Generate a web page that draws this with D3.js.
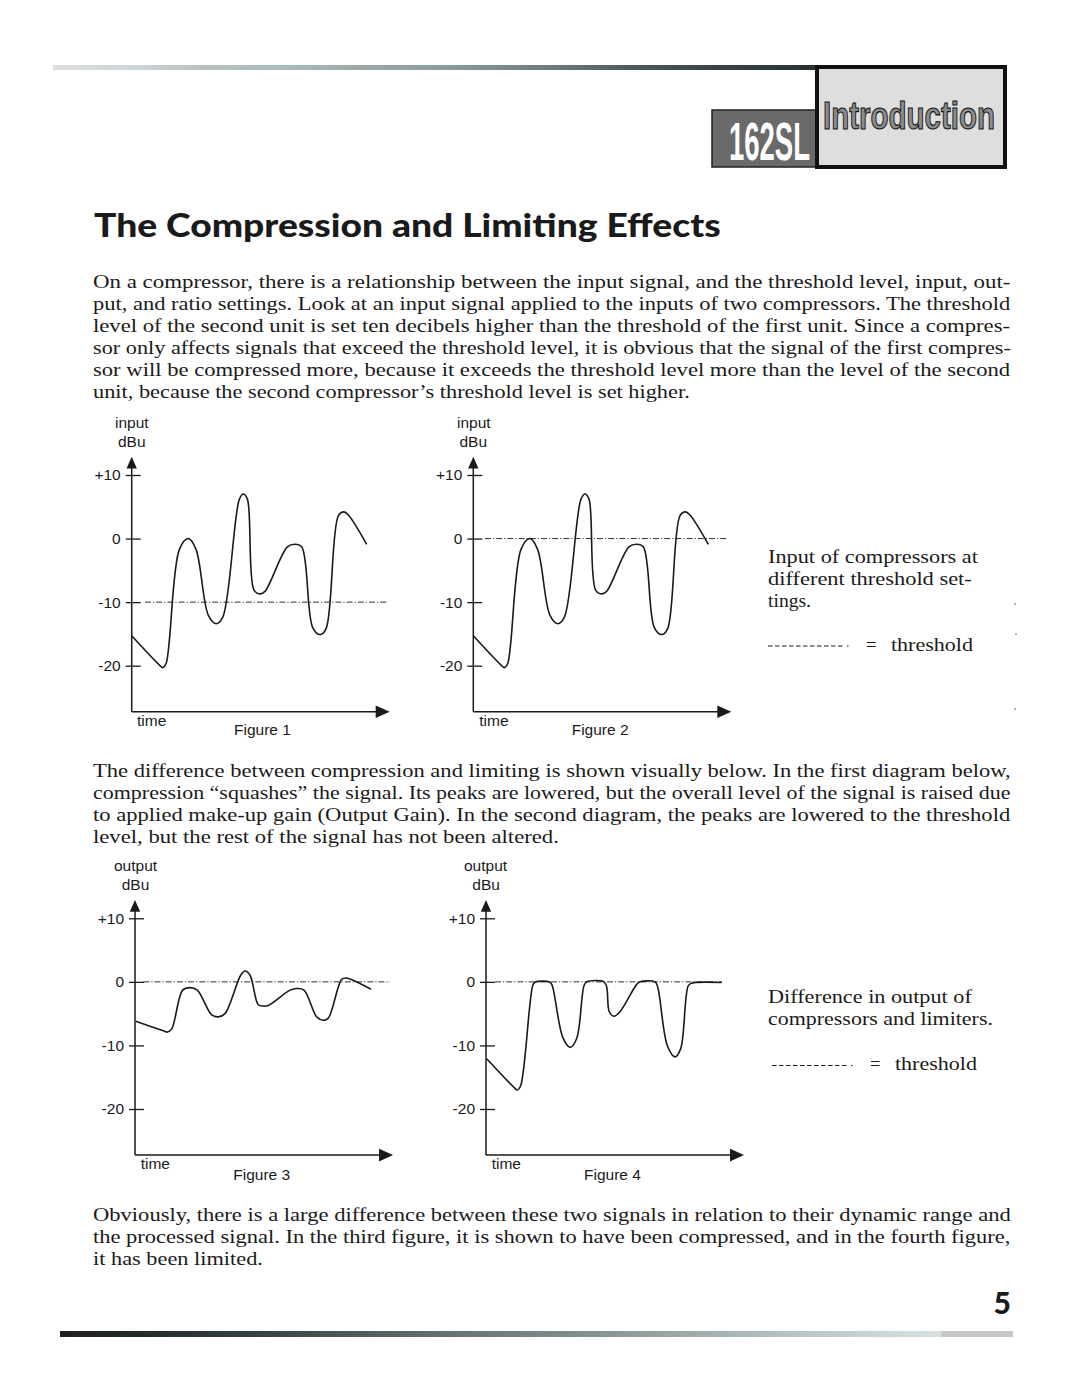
<!DOCTYPE html>
<html><head><meta charset="utf-8">
<script src="https://cdn.jsdelivr.net/npm/d3@7"></script>
<style>html,body{margin:0;padding:0;background:#fff;} svg{display:block;}</style>
</head><body>
<svg id="page" width="1080" height="1397"></svg>
<script>
// ---------- DATA ----------
const yTickValues = [10, 0, -10, -20];
const yTickLabels = ["+10", "0", "-10", "-20"];

// input signal (Figures 1 & 2): time units, level in dBu
const inputTime  = [0, 27.7, 31, 34.3, 47.7, 56.7, 64.3, 76.7, 84.3, 91, 107.7, 111.7, 115.7, 122.3, 128.3, 133.3, 155.7, 163.3, 170, 181, 188.3, 194.3, 206.7, 212.3, 216.7, 235];
const inputLevel = [-15.3, -19.9, -20.3, -19.7, -1.7, 0, -1.7, -12.1, -13.4, -12.4, 6.2, 7.0, 6.2, -8.1, -8.7, -8.3, -1.3, -0.9, -1.3, -14.0, -15.1, -14.2, 3.6, 4.2, 3.7, -0.9];

// compressed output (Figure 3)
const compTime  = [0.7, 28.3, 32.3, 36.7, 47.7, 55, 62.3, 76.7, 83.3, 90, 105.7, 110, 115, 123.3, 128.3, 133.3, 155, 161.7, 169, 181.7, 188.3, 193.3, 206.7, 211, 215.7, 236];
const compLevel = [-6.2, -7.7, -7.9, -7.4, -1.3, -0.9, -1.3, -5.2, -5.5, -5.0, 1.05, 1.7, 1.05, -3.6, -3.8, -3.7, -1.3, -1.05, -1.3, -5.5, -6.05, -5.7, 0.4, 0.6, 0.4, -1.15];

// limited output (Figure 4)
const limTime  = [0.7, 28, 31.3, 34.7, 46.7, 49, 64, 66.3, 76.7, 84, 90.7, 98, 100.7, 118, 120.7, 123.3, 128, 134, 150.7, 154, 169, 171.7, 181.3, 189, 194.7, 202.3, 205.7, 235.7];
const limLevel = [-12.1, -16.6, -17.0, -16.3, -0.6, -0.05, -0.05, -0.6, -8.7, -10.3, -8.9, -0.6, 0, 0, -0.8, -4.7, -5.4, -4.7, -0.4, 0, 0, -0.8, -10.0, -11.8, -10.5, -0.6, -0.2, -0.1];

const figureTitles = ["Figure 1", "Figure 2", "Figure 3", "Figure 4"];
const axisTitles   = ["input", "input", "output", "output"];
const unitTitle    = "dBu";
const timeTitle    = "time";
const thresholdLevels = [-10, 0, 0, 0];

const heading = "The Compression and Limiting Effects";
const para1 = [
  "On a compressor, there is a relationship between the input signal, and the threshold level, input, out-",
  "put, and ratio settings. Look at an input signal applied to the inputs of two compressors. The threshold",
  "level of the second unit is set ten decibels higher than the threshold of the first unit. Since a compres-",
  "sor only affects signals that exceed the threshold level, it is obvious that the signal of the first compres-",
  "sor will be compressed more, because it exceeds the threshold level more than the level of the second",
  "unit, because the second compressor\u2019s threshold level is set higher."
];
const para2 = [
  "The difference between compression and limiting is shown visually below. In the first diagram below,",
  "compression \u201csquashes\u201d the signal. Its peaks are lowered, but the overall level of the signal is raised due",
  "to applied make-up gain (Output Gain). In the second diagram, the peaks are lowered to the threshold",
  "level, but the rest of the signal has not been altered."
];
const para3 = [
  "Obviously, there is a large difference between these two signals in relation to their dynamic range and",
  "the processed signal. In the third figure, it is shown to have been compressed, and in the fourth figure,",
  "it has been limited."
];
const note1 = ["Input of compressors at", "different threshold set-", "tings."];
const note2 = ["Difference in output of", "compressors and limiters."];
const legendText = "threshold";

// ---------- DRAW ----------
const svg = d3.select("#page");
const ink = "#1a1a1a";
const serif = "'Liberation Serif', 'Times New Roman', serif";
const sans = "'Liberation Sans', Arial, Helvetica, sans-serif";

// text fitted to a target width by horizontal scaling (keeps bbox honest)
function fitText(parent, str, x, y, width, attrs) {
  const t = parent.append("text").attr("x", 0).attr("y", 0).text(str);
  Object.entries(attrs).forEach(([k, v]) => t.attr(k, v));
  const w = t.node().getComputedTextLength();
  const sx = w > 0 ? width / w : 1;
  t.attr("transform", `translate(${x},${y}) scale(${sx},1)`);
  return t;
}

// gradients
const defs = svg.append("defs");
const topGrad = defs.append("linearGradient").attr("id", "topGrad");
[[0,"#dedede"],[0.1,"#ccd8d8"],[0.2,"#b9bfbf"],[0.3,"#a6bebb"],[0.4,"#9fa8a8"],[0.5,"#8aa09e"],[0.6,"#788888"],[0.68,"#667272"],[0.76,"#4c5a5a"],[0.86,"#3a4444"],[1,"#263232"]]
  .forEach(([o,c]) => topGrad.append("stop").attr("offset", o).attr("stop-color", c));
const botGrad = defs.append("linearGradient").attr("id", "botGrad");
[[0,"#1e1e1e"],[0.12,"#283232"],[0.22,"#394545"],[0.33,"#536060"],[0.44,"#6a7878"],[0.54,"#7f8f8d"],[0.64,"#98a6a4"],[0.72,"#aabab8"],[0.82,"#c2cece"],[0.924,"#d6e2e2"],[0.925,"#c8c8c8"],[1,"#c8c8c8"]]
  .forEach(([o,c]) => botGrad.append("stop").attr("offset", o).attr("stop-color", c));

// header
svg.append("rect").attr("x", 53).attr("y", 65).attr("width", 766).attr("height", 5).attr("fill", "url(#topGrad)");
svg.append("rect").attr("x", 712).attr("y", 110).attr("width", 105).attr("height", 57)
  .attr("fill", "#6a6a6a").attr("stroke", "#222").attr("stroke-width", 1.5);
fitText(svg, "162SL", 729, 160, 81, {
  "font-family": "'Liberation Sans Narrow', 'Liberation Sans', sans-serif",
  "font-weight": "bold", "font-size": 53, "fill": "#fff"});
svg.append("rect").attr("x", 817).attr("y", 67).attr("width", 188).attr("height", 100)
  .attr("fill", "#dedede").attr("stroke", "#111").attr("stroke-width", 4);
fitText(svg, "Introduction", 823, 128.5, 172, {
  "font-family": "'Liberation Sans', sans-serif",
  "font-weight": "bold", "font-size": 38, "fill": "#8c8c8c",
  "stroke": "#111", "stroke-width": 1.1});

// heading
fitText(svg, heading, 94, 237, 627, {
  "font-family": "Lato, 'Open Sans', sans-serif", "font-weight": 900,
  "font-size": 32, "fill": ink});

// paragraphs (justified by slight glyph stretching)
function paragraph(lines, y0, lastWidth) {
  lines.forEach((ln, i) => {
    const last = i === lines.length - 1;
    fitText(svg, ln, 93, y0 + i * 22, last ? lastWidth : 918, {
      "font-family": serif, "font-size": 18.5, "fill": ink});
  });
}
paragraph(para1, 288, 597);
paragraph(para2, 776.5, 466);
paragraph(para3, 1221, 170);

// side notes
function note(lines, x, y0, widths) {
  lines.forEach((ln, i) => {
    fitText(svg, ln, x, y0 + i * 22, widths[i], {
      "font-family": serif, "font-size": 18.5, "fill": ink});
  });
}
note(note1, 768, 562.5, [210, 204, 43]);
note(note2, 768, 1003, [204, 225]);

function legend(x, y) {
  svg.append("line").attr("x1", x).attr("x2", x + 76).attr("y1", y - 4.5).attr("y2", y - 4.5)
    .attr("stroke", ink).attr("stroke-width", 1.1).attr("stroke-dasharray", "4.5,2.5");
  svg.append("line").attr("x1", x + 79).attr("x2", x + 80.5).attr("y1", y - 4.5).attr("y2", y - 4.5)
    .attr("stroke", ink).attr("stroke-width", 1);
  svg.append("text").attr("x", x + 98).attr("y", y).text("=")
    .attr("font-family", serif).attr("font-size", 18.5).attr("fill", ink);
  fitText(svg, legendText, x + 123, y, 82, {
    "font-family": serif, "font-size": 18.5, "fill": ink});
}
legend(768, 650.5);
legend(772, 1070);

// stray specks
[[1015, 604], [1016, 634], [1015, 709]].forEach(([cx, cy]) =>
  svg.append("circle").attr("cx", cx).attr("cy", cy).attr("r", 0.8).attr("fill", "#555"));

// figures
const layouts = [
  {ax: 131.7, y10: 475,   yM20: 665.7, thr: [145, 387],   lblX: 115,   dbuX: 118,   lblY: 427.5, dbuY: 446.7, timeX: 137,   timeY: 725.5, figX: 234,   figY: 735},
  {ax: 473.3, y10: 475,   yM20: 665.7, thr: [485, 728],   lblX: 457,   dbuX: 459.5, lblY: 427.5, dbuY: 446.7, timeX: 479.3, timeY: 725.5, figX: 571.7, figY: 735},
  {ax: 135,   y10: 918.3, yM20: 1109,  thr: [143.3, 390], lblX: 114,   dbuX: 121.7, lblY: 870.5, dbuY: 889.5, timeX: 140.7, timeY: 1169.3, figX: 233.3, figY: 1180},
  {ax: 486,   y10: 918.3, yM20: 1109,  thr: [495, 722],   lblX: 464,   dbuX: 472.3, lblY: 870.5, dbuY: 889.5, timeX: 491.7, timeY: 1169.3, figX: 584,   figY: 1180}
];
const series = [
  [inputTime, inputLevel], [inputTime, inputLevel], [compTime, compLevel], [limTime, limLevel]
];

layouts.forEach((L, i) => {
  const g = svg.append("g");
  const y = d3.scaleLinear().domain([-20, 10]).range([L.yM20, L.y10]);
  const x = d3.scaleLinear().domain([0, 258]).range([L.ax, L.ax + 258]);
  const axisY = y(-27.25);

  // axis lines + arrows
  g.append("line").attr("x1", L.ax).attr("x2", L.ax).attr("y1", y(10) - 10).attr("y2", axisY)
    .attr("stroke", ink).attr("stroke-width", 1.5);
  g.append("path").attr("d", `M${L.ax},${y(10) - 18.3} L${L.ax - 5.2},${y(10) - 6.5} L${L.ax + 5.2},${y(10) - 6.5} Z`).attr("fill", ink);
  g.append("line").attr("x1", L.ax).attr("x2", x(248)).attr("y1", axisY).attr("y2", axisY)
    .attr("stroke", ink).attr("stroke-width", 1.5);
  g.append("path").attr("d", `M${x(258)},${axisY} L${x(244)},${axisY - 6.3} L${x(244)},${axisY + 6.3} Z`).attr("fill", ink);

  // ticks via d3 axis
  const yAxis = d3.axisLeft(y).tickValues(yTickValues)
    .tickFormat((d, k) => yTickLabels[k]).tickSize(6).tickPadding(5);
  const ag = g.append("g").attr("transform", `translate(${L.ax},0)`).call(yAxis);
  ag.select(".domain").remove();
  ag.selectAll(".tick line").attr("x1", 9).attr("stroke", ink).attr("stroke-width", 1.3);
  ag.selectAll(".tick text").attr("font-family", sans).attr("font-size", 15.5).attr("fill", ink);

  // threshold
  g.append("line").attr("x1", L.thr[0]).attr("x2", L.thr[1])
    .attr("y1", y(thresholdLevels[i])).attr("y2", y(thresholdLevels[i]))
    .attr("stroke", ink).attr("stroke-width", 0.9).attr("stroke-dasharray", "6,2,1.2,2");

  // signal
  const [ts, vs] = series[i];
  const pts = ts.map((t, k) => ({t, v: vs[k]}));
  const line = d3.line().x(d => x(d.t)).y(d => y(d.v)).curve(d3.curveCatmullRom.alpha(0.5));
  g.append("path").datum(pts).attr("d", line).attr("fill", "none")
    .attr("stroke", ink).attr("stroke-width", 1.6).attr("stroke-linejoin", "round");

  // labels
  const lab = (tx, px, py) => g.append("text").attr("x", px).attr("y", py).text(tx)
    .attr("font-family", sans).attr("font-size", 15.5).attr("fill", ink);
  lab(axisTitles[i], L.lblX, L.lblY);
  lab(unitTitle, L.dbuX, L.dbuY);
  lab(timeTitle, L.timeX, L.timeY);
  lab(figureTitles[i], L.figX, L.figY);
});

// page number + bottom bar
svg.append("text").attr("x", 1011).attr("y", 1313.5).attr("text-anchor", "end").text("5")
  .attr("font-family", "Lato, 'Open Sans', sans-serif").attr("font-weight", 900)
  .attr("font-size", 30).attr("fill", ink);
svg.append("rect").attr("x", 60).attr("y", 1331).attr("width", 953).attr("height", 6).attr("fill", "url(#botGrad)");
</script>
</body></html>
